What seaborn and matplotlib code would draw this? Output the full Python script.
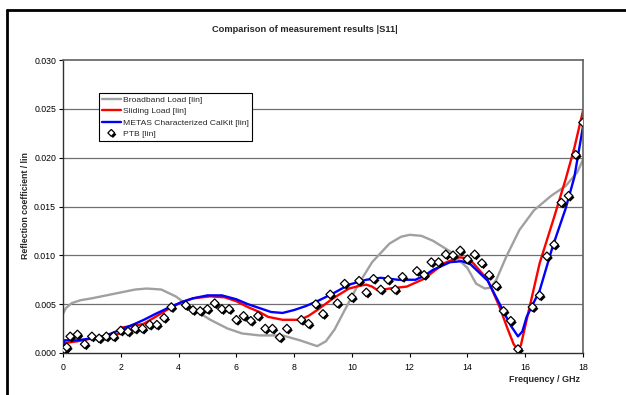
import matplotlib
matplotlib.use("Agg")
import matplotlib.pyplot as plt
import matplotlib.patheffects as pe
from matplotlib.lines import Line2D
import seaborn as sns
import pandas as pd

# ---- data ----
bb_freq = [0.0, 0.1, 0.3, 0.6, 1.0, 1.5, 2.0, 2.5, 2.9, 3.4, 3.9, 4.5, 5.1, 5.7, 6.2, 6.8, 7.6, 8.2,
           8.5, 8.8, 9.1, 9.4, 9.7, 10.2, 10.7, 11.3, 11.7, 12.0, 12.4, 12.8, 13.4, 14.0, 14.3, 14.6,
           14.8, 15.0, 15.35, 15.8, 16.3, 16.9, 17.4, 17.8, 18.0]
bb_val = [0.0040, 0.0046, 0.0051, 0.0054, 0.0056, 0.0059, 0.0062, 0.0065, 0.0066, 0.0065, 0.0058,
          0.0045, 0.0034, 0.0025, 0.0020, 0.0018, 0.0018, 0.0013, 0.0010, 0.0007, 0.0012, 0.0024,
          0.0041, 0.0069, 0.0093, 0.0112, 0.0119, 0.0121, 0.0120, 0.0115, 0.0104, 0.0087, 0.0071,
          0.0066, 0.0067, 0.0075, 0.0099, 0.0126, 0.0146, 0.0161, 0.0171, 0.0185, 0.0198]

sl_freq = [0.0, 0.5, 1.0, 1.5, 1.98, 2.0, 2.5, 2.8, 3.2, 3.7, 4.1, 4.5, 5.1, 5.6, 6.0, 6.4, 6.8, 7.1,
           7.6, 8.2, 8.5, 8.8, 9.35, 9.9, 10.3, 10.5, 10.7, 10.9, 11.3, 11.9, 12.5, 13.2, 13.7, 14.0,
           14.2, 14.7, 15.1, 15.4, 15.6, 15.75, 15.85, 16.05, 16.5, 17.0, 17.4, 17.7, 18.0]
sl_val = [0.0010, 0.0012, 0.0015, 0.0017, 0.0020, 0.0026, 0.0028, 0.0030, 0.0037, 0.0046, 0.0052,
          0.0056, 0.0058, 0.0057, 0.0053, 0.0047, 0.0042, 0.0037, 0.0034, 0.0034, 0.0038, 0.0044,
          0.0056, 0.0066, 0.0069, 0.0070, 0.0068, 0.0064, 0.0066, 0.0068, 0.0076, 0.0092, 0.0098,
          0.0097, 0.0092, 0.0075, 0.0048, 0.0024, 0.0009, 0.0003, 0.0008, 0.0034, 0.0092, 0.0139,
          0.0178, 0.0210, 0.0248]

me_freq = [0.0, 0.05, 0.5, 1.0, 1.5, 2.0, 2.5, 2.8, 3.2, 3.7, 4.1, 4.5, 5.0, 5.5, 6.0, 6.4, 6.8, 7.2,
           7.6, 8.0, 8.4, 8.8, 9.35, 9.9, 10.5, 11.0, 11.6, 12.2, 12.5, 12.8, 13.4, 13.8, 14.1, 14.7,
           15.1, 15.5, 15.75, 15.9, 16.05, 16.5, 16.95, 17.4, 17.7, 18.0]
me_val = [0.0007, 0.0013, 0.0013, 0.0015, 0.0018, 0.0024, 0.0030, 0.0034, 0.0040, 0.0047, 0.0052,
          0.0056, 0.0059, 0.0059, 0.0055, 0.0050, 0.0046, 0.0042, 0.0041, 0.0044, 0.0048, 0.0053,
          0.0061, 0.0070, 0.0075, 0.0077, 0.0075, 0.0075, 0.0079, 0.0085, 0.0093, 0.0094, 0.0091,
          0.0074, 0.0051, 0.0028, 0.0017, 0.0022, 0.0037, 0.0064, 0.0109, 0.0148, 0.0180, 0.0232]

ptb_freq = [0.05, 0.13, 0.25, 0.5, 0.75, 1.0, 1.25, 1.5, 1.75, 2.0, 2.25, 2.5, 2.75, 3.0, 3.25, 3.5,
            3.75, 4.25, 4.5, 4.75, 5.0, 5.25, 5.5, 5.75, 6.0, 6.25, 6.5, 6.75, 7.0, 7.25, 7.5, 7.75,
            8.25, 8.5, 8.75, 9.0, 9.25, 9.5, 9.75, 10.0, 10.25, 10.5, 10.75, 11.0, 11.25, 11.5, 11.75,
            12.25, 12.5, 12.75, 13.0, 13.25, 13.5, 13.75, 14.0, 14.25, 14.5, 14.75, 15.0, 15.25, 15.5,
            15.75, 16.25, 16.5, 16.75, 17.0, 17.25, 17.5, 17.75, 18.0]
ptb_val = [0.0004, 0.0006, 0.0017, 0.0019, 0.0009, 0.0017, 0.0015, 0.0017, 0.0017, 0.0023, 0.0022,
           0.0025, 0.0025, 0.0029, 0.0029, 0.0036, 0.0047, 0.0049, 0.0044, 0.0043, 0.0045, 0.0051,
           0.0045, 0.0045, 0.0034, 0.0038, 0.0033, 0.0038, 0.0025, 0.0025, 0.0016, 0.0025, 0.0034,
           0.0030, 0.0050, 0.0040, 0.0060, 0.0051, 0.0071, 0.0057, 0.0074, 0.0062, 0.0076, 0.0065,
           0.0075, 0.0065, 0.0078, 0.0084, 0.0080, 0.0093, 0.0093, 0.0101, 0.0100, 0.0105, 0.0096,
           0.0101, 0.0092, 0.0080, 0.0069, 0.0043, 0.0033, 0.0004, 0.0047, 0.0059, 0.0099, 0.0111,
           0.0154, 0.0161, 0.0203, 0.0236]

series_names = ["Broadband Load [lin]", "Sliding Load [lin]",
                "METAS Characterized CalKit [lin]", "PTB [lin]"]
x_ticks = [0, 2, 4, 6, 8, 10, 12, 14, 16, 18]
y_ticks = [0.000, 0.005, 0.010, 0.015, 0.020, 0.025, 0.030]

# ---- plot ----
sns.set_theme(style="white")
plt.rcParams["font.family"] = ["Liberation Sans", "DejaVu Sans"]

fig = plt.figure(figsize=(6.26, 3.95), dpi=100)
ax = fig.add_axes([63 / 626, 1 - 353 / 395, 520 / 626, 293 / 395])

# figure frame (cropped on right and bottom)
fig.add_artist(Line2D([7 / 626, 7 / 626], [0, 1 - 10 / 395], transform=fig.transFigure,
                      color="black", lw=2.0))
fig.add_artist(Line2D([7 / 626, 1], [1 - 10 / 395, 1 - 10 / 395], transform=fig.transFigure,
                      color="black", lw=2.0))

for yv in y_ticks[1:-1]:
    ax.axhline(yv, color="#707070", lw=0.9, zorder=0)

df_bb = pd.DataFrame({"f": bb_freq, "v": bb_val})
df_sl = pd.DataFrame({"f": sl_freq, "v": sl_val})
df_me = pd.DataFrame({"f": me_freq, "v": me_val})
df_ptb = pd.DataFrame({"f": ptb_freq, "v": ptb_val})

sns.lineplot(data=df_bb, x="f", y="v", color="#a0a0a0", lw=1.7, sort=False, ax=ax)
sns.lineplot(data=df_sl, x="f", y="v", color="#ff0000", lw=1.7, sort=False, ax=ax)
sns.lineplot(data=df_me, x="f", y="v", color="#0000ff", lw=1.7, sort=False, ax=ax)
sns.scatterplot(data=df_ptb, x="f", y="v", marker="D", s=19, color="white",
                edgecolor="black", linewidth=0.9, ax=ax, zorder=5)
shadow = [pe.SimplePatchShadow(offset=(1.2, -1.2), shadow_rgbFace="black", alpha=1.0), pe.Normal()]
ax.collections[-1].set_path_effects(shadow)

ax.set_xlim(0, 18)
ax.set_ylim(0, 0.030)
ax.set_xticks(x_ticks)
ax.set_yticks(y_ticks)
ax.set_xticklabels([str(t) for t in x_ticks])
ax.set_yticklabels([f"{t:.3f}" for t in y_ticks])
ax.tick_params(axis="both", labelsize=6.3, colors="black", length=3, width=0.8,
               direction="out", pad=2, bottom=True, left=True)
ax.tick_params(axis="x", pad=4)
ax.set_xlabel("")
ax.set_ylabel("")
for side in ["left", "bottom"]:
    ax.spines[side].set_color("#303030")
    ax.spines[side].set_linewidth(1.0)
for side in ["top", "right"]:
    ax.spines[side].set_color("#606060")
    ax.spines[side].set_linewidth(1.2)

fig.text(305 / 626, 1 - 30 / 395, "Comparison of measurement results |S11|", ha="center",
         va="center", fontsize=6.7, fontweight="bold")
fig.text(26 / 626, 1 - 206 / 395, "Reflection coefficient / lin", rotation=90, ha="center",
         va="center", fontsize=6.3, fontweight="bold")
fig.text(580 / 626, 1 - 380 / 395, "Frequency / GHz", ha="right", va="center",
         fontsize=6.5, fontweight="bold")

handles = [
    Line2D([], [], color="#a0a0a0", lw=1.7),
    Line2D([], [], color="#ff0000", lw=1.7),
    Line2D([], [], color="#0000ff", lw=1.7),
    Line2D([], [], ls="none", marker="D", markersize=3.5, markerfacecolor="white",
           markeredgecolor="black", markeredgewidth=0.9, path_effects=shadow),
]
leg = ax.legend(handles, series_names, loc="upper left",
                bbox_to_anchor=((99 - 63) / 520, (353 - 93) / 293), fontsize=6.1,
                frameon=True, fancybox=False, framealpha=1, edgecolor="black",
                handlelength=2.2, handletextpad=0.3, borderpad=0.35, labelspacing=0.4,
                borderaxespad=0)
leg.get_frame().set_linewidth(0.8)

fig.savefig("out.png", dpi=100)
